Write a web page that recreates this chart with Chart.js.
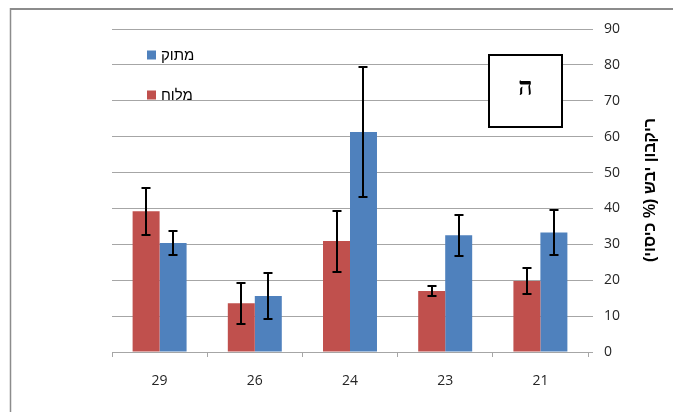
<!DOCTYPE html>
<html lang="he">
<head>
<meta charset="utf-8">
<script src="https://cdn.jsdelivr.net/npm/chart.js@4/dist/chart.umd.min.js"></script>
<style>
  html, body { margin: 0; padding: 0; background: #fff; }
  #wrap { position: relative; width: 673px; height: 412px; }
</style>
</head>
<body>
<div id="wrap"><canvas id="c" width="673" height="412"></canvas></div>
<script>
// Rot severity per temperature, two treatments, with error bars.
const categories = ["29", "26", "24", "23", "21"];
const saltyLabel = "מלוח";
const sweetLabel = "מתוק";
const saltyValues = [39.2, 13.6, 30.9, 17.0, 19.8];
const saltyErrors = [6.5, 5.7, 8.5, 1.4, 3.7];
const sweetValues = [30.4, 15.6, 61.3, 32.5, 33.3];
const sweetErrors = [3.4, 6.5, 18.0, 5.8, 6.3];
const yMin = 0, yMax = 90, yStep = 10;
const yTitle = "ריקבון יבש (% כיסוי)";
const panelLetter = "ה";

const RED = "#c0504d";
const BLUE = "#4f81bd";
const GRID = "#a6a6a6";
const TICK_TEXT = "#262626";

// Black error bars centred on each bar.
const errorBars = {
  id: "errorBars",
  afterDatasetsDraw(chart) {
    const ctx = chart.ctx;
    const y = chart.scales.y;
    ctx.save();
    ctx.strokeStyle = "#000";
    ctx.lineWidth = 2;
    chart.data.datasets.forEach((ds, i) => {
      const meta = chart.getDatasetMeta(i);
      meta.data.forEach((bar, j) => {
        const v = ds.data[j], e = ds.errors[j];
        const top = Math.round(y.getPixelForValue(v + e));
        const bot = Math.round(y.getPixelForValue(v - e));
        const x = Math.round(bar.x);
        ctx.beginPath();
        ctx.moveTo(x, top); ctx.lineTo(x, bot);
        ctx.moveTo(x - 4.5, top); ctx.lineTo(x + 4.5, top);
        ctx.moveTo(x - 4.5, bot); ctx.lineTo(x + 4.5, bot);
        ctx.stroke();
      });
    });
    ctx.restore();
  }
};

// Frame, in-plot legend, panel letter box and the rotated axis title.
const decorations = {
  id: "decorations",
  beforeDraw(chart) {
    const ctx = chart.ctx;
    ctx.save();
    ctx.fillStyle = "#fff";
    ctx.fillRect(0, 0, chart.width, chart.height);
    ctx.strokeStyle = "#8c8c8c";
    ctx.lineWidth = 2;
    ctx.beginPath();
    ctx.moveTo(10, 9); ctx.lineTo(chart.width, 9);
    ctx.stroke();
    ctx.lineWidth = 1.5;
    ctx.beginPath();
    ctx.moveTo(10.5, 8); ctx.lineTo(10.5, chart.height);
    ctx.stroke();
    ctx.restore();
  },
  afterDraw(chart) {
    const ctx = chart.ctx;
    ctx.save();
    // legend
    const items = [[sweetLabel, BLUE, 55], [saltyLabel, RED, 95]];
    ctx.font = "15px 'Liberation Sans', Arial, sans-serif";
    ctx.textBaseline = "middle";
    ctx.textAlign = "left";
    items.forEach(([label, color, cy]) => {
      ctx.fillStyle = color;
      ctx.fillRect(147, cy - 4.5, 9, 9);
      ctx.fillStyle = "#000";
      ctx.fillText(label, 161, cy + 1);
    });
    // letter box
    ctx.fillStyle = "#fff";
    ctx.fillRect(489, 55, 73, 72);
    ctx.strokeStyle = "#000";
    ctx.lineWidth = 2;
    ctx.strokeRect(489, 55, 73, 72);
    ctx.fillStyle = "#000";
    ctx.font = "bold 25px 'Liberation Serif', 'DejaVu Serif', serif";
    ctx.textAlign = "center";
    ctx.fillText(panelLetter, 525.5, 89);
    // axis title, rotated counter-clockwise
    ctx.translate(651, 190);
    ctx.rotate(-Math.PI / 2);
    ctx.direction = "rtl";
    ctx.font = "bold 16px 'Liberation Sans', Arial, sans-serif";
    ctx.fillText(yTitle, 0, 0);
    ctx.restore();
  }
};

new Chart(document.getElementById("c"), {
  type: "bar",
  data: {
    labels: categories,
    datasets: [
      { label: saltyLabel, data: saltyValues, errors: saltyErrors, backgroundColor: RED },
      { label: sweetLabel, data: sweetValues, errors: sweetErrors, backgroundColor: BLUE }
    ]
  },
  options: {
    responsive: false,
    animation: false,
    devicePixelRatio: 1,
    categoryPercentage: 0.567,
    barPercentage: 1,
    layout: { padding: { left: 112, top: 29, right: 0, bottom: 20 } },
    scales: {
      x: {
        afterFit: (s) => { s.height = 40; },
        grid: {
          drawOnChartArea: false, drawTicks: true, tickLength: 5, offset: true,
          color: (c) => (c.index === categories.length ? "rgba(0,0,0,0)" : GRID)
        },
        border: { display: true, color: GRID, width: 1 },
        ticks: { color: TICK_TEXT, padding: 16, font: { family: "'Open Sans', sans-serif", size: 14 } }
      },
      y: {
        position: "right",
        min: yMin,
        max: yMax,
        afterFit: (s) => { s.width = 85; },
        grid: { color: GRID, tickLength: 5, lineWidth: 1 },
        border: { display: false },
        ticks: { stepSize: yStep, color: TICK_TEXT, padding: 11, font: { family: "'Open Sans', sans-serif", size: 14 } }
      }
    },
    plugins: { legend: { display: false }, tooltip: { enabled: false } }
  },
  plugins: [decorations, errorBars]
});
</script>
</body>
</html>
